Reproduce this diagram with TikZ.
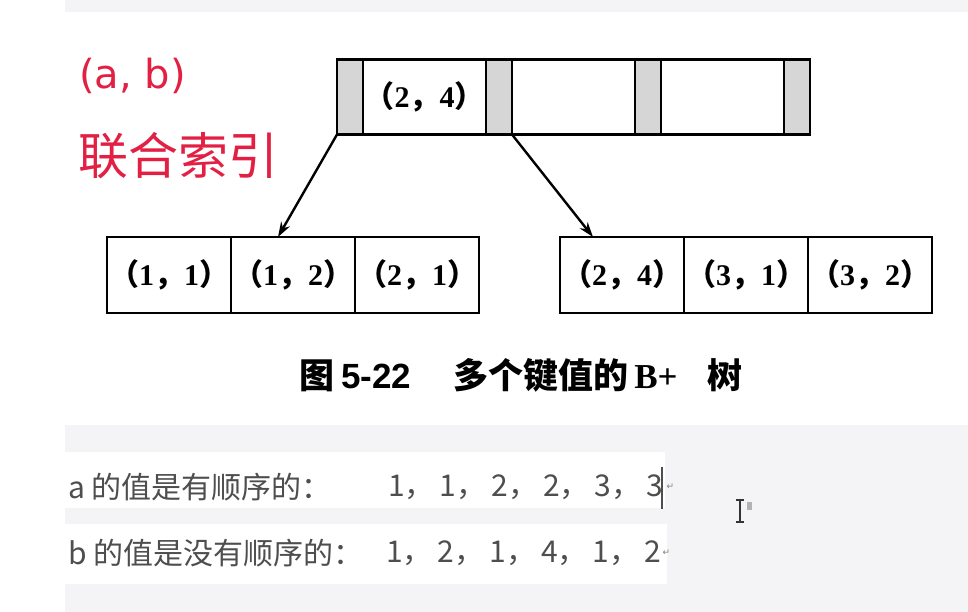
\documentclass[tikz,border=0pt]{standalone}
\usepackage{fontspec}
\setmainfont{Liberation Serif}
\newfontfamily\cjk{Noto Sans CJK SC}
\newfontfamily\latinsans{DejaVu Sans}
\newfontfamily\arialfont{Liberation Sans}
\newfontfamily\symfont{DejaVu Sans}
\usetikzlibrary{positioning, arrows.meta, calc}

\definecolor{markred}{RGB}{226,32,68}
\definecolor{notegray}{RGB}{78,78,78}
\definecolor{slotgray}{RGB}{214,214,214}
\definecolor{pagegray}{RGB}{244,244,246}

% a key pair as printed in the book: (x, y)
\newcommand\kv[2]{{\cjk\bfseries （}#1{\cjk\bfseries ，}#2{\cjk\bfseries ）}}
\newcommand\fs[1]{\fontsize{#1}{#1}\selectfont}
% value list with wide commas
\newcommand\cm{，\hspace{5pt}}

\begin{document}
\begin{tikzpicture}[
  x=1pt, y=-1pt,
  node distance=0pt,
  cell/.style={draw, line width=2.6pt, outer sep=0pt, minimum height=75pt,
               inner sep=0pt, font=\fs{30}\bfseries},
  slot/.style={cell, fill=slotgray, minimum width=26pt},
  keycell/.style={cell, minimum width=123pt},
  leafcell/.style={cell, minimum width=124pt, minimum height=76pt},
  pointer/.style={draw, line width=2.4pt, -{Stealth[length=15pt, width=10pt]}},
  note/.style={anchor=west, inner sep=0pt, text=notegray, font=\cjk\fs{30}}]

\useasboundingbox (0,0) rectangle (968,612);

% page background
\fill[white] (0,0) rectangle (968,612);
\fill[pagegray] (65,0) rectangle (968,12);
\fill[pagegray] (65,425) rectangle (968,612);
\fill[white] (65,452) rectangle (665,508);
\fill[white] (65,524) rectangle (667,584);

% red remark
\node[anchor=west, inner sep=0pt, text=markred, font=\latinsans\fs{40}] (pairlab) at (79,76) {(a, b)};
\node[anchor=west, inner sep=0pt, text=markred, font=\cjk\fs{50}] (idxlab) at (78,156) {联合索引};

% root page
\node[slot] (g1) at (350,97) {};
\node[keycell, right=of g1] (k1) {\kv{2}{4}};
\node[slot, right=of k1] (g2) {};
\node[keycell, right=of g2] (k2) {};
\node[slot, right=of k2] (g3) {};
\node[keycell, right=of g3] (k3) {};
\node[slot, right=of k3] (g4) {};

% leaf pages
\node[leafcell] (l1) at (169,275) {\kv{1}{1}};
\node[leafcell, right=of l1] (l2) {\kv{1}{2}};
\node[leafcell, right=of l2] (l3) {\kv{2}{1}};
\node[leafcell] (r1) at (622,275) {\kv{2}{4}};
\node[leafcell, right=of r1] (r2) {\kv{3}{1}};
\node[leafcell, right=of r2] (r3) {\kv{3}{2}};

\draw[pointer] (g1.south west) -- ($(l2.north west)+(47,0)$);
\draw[pointer] (g2.south east) -- ($(r1.north west)+(33,0)$);

% caption
\node[inner sep=0pt, font=\fs{35}\bfseries] (caption) at (521,375)
  {{\cjk 图}\hspace{7pt}{\arialfont 5-22}\hspace{42pt}{\cjk 多个键值的}\hspace{6pt}B+\hspace{30pt}{\cjk 树}};

% notes below
\node[note] (alab) at (68,487) {a 的值是有顺序的：};
\node[note] (aval) at (388,487) {1\cm 1\cm 2\cm 2\cm 3\cm 3};
\node[note] (blab) at (68,553) {b 的值是没有顺序的：};
\node[note] (bval) at (386,553) {1\cm 2\cm 1\cm 4\cm 1\cm 2};
\node[anchor=west, inner sep=0pt, text=gray, font=\symfont\fs{9}] (amark) at ([xshift=3pt]aval.east) {↵};
\node[anchor=west, inner sep=0pt, text=gray, font=\symfont\fs{9}] (bmark) at ([xshift=1pt]bval.east) {↵};

% caret and mouse pointer
\draw[line width=1.6pt, notegray] (662,467) -- (662,509);
\draw[line width=1.4pt, black!80] (740,500) -- (740,522) (736,500) -- (744,500) (736,522) -- (744,522);
\fill[gray!60] (747,502) rectangle (752,510);
\end{tikzpicture}
\end{document}
